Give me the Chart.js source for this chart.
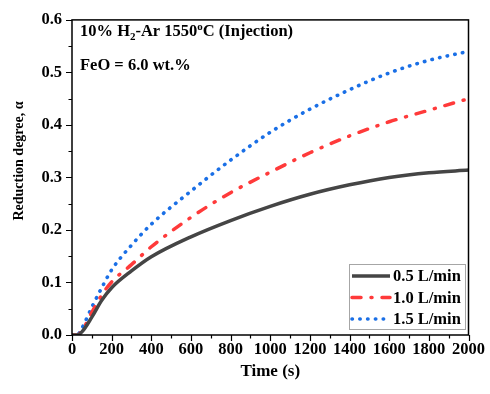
<!DOCTYPE html>
<html>
<head>
<meta charset="utf-8">
<script src="https://cdn.jsdelivr.net/npm/chart.js@4/dist/chart.umd.min.js"></script>
<style>
html,body{margin:0;padding:0;background:#fff;}
canvas{display:block;}
</style>
</head>
<body>
<canvas id="c" width="490" height="394"></canvas>
<script>
// ---- data ----
const time = [0, 25, 50, 100, 150, 200, 300, 400, 600, 800, 1000, 1200, 1400, 1600, 1800, 2000];
const flow05 = [0, 0, 0.006, 0.034, 0.066, 0.090, 0.122, 0.149, 0.187, 0.218, 0.245, 0.268, 0.286, 0.300, 0.309, 0.314];
const flow10 = [0, 0, 0.008, 0.043, 0.076, 0.101, 0.134, 0.168, 0.224, 0.271, 0.310, 0.347, 0.379, 0.406, 0.428, 0.450];
const flow15 = [0, 0, 0.013, 0.053, 0.090, 0.124, 0.171, 0.211, 0.274, 0.333, 0.386, 0.430, 0.467, 0.499, 0.523, 0.540];
const seriesLabels = ['0.5 L/min', '1.0 L/min', '1.5 L/min'];
const xTicks = [0, 200, 400, 600, 800, 1000, 1200, 1400, 1600, 1800, 2000];
const yTicks = [0.0, 0.1, 0.2, 0.3, 0.4, 0.5, 0.6];

const FONT = '"Liberation Serif", "Times New Roman", serif';
const pts = arr => time.map((t, i) => ({x: t, y: arr[i]}));

const frameAndDecor = {
  id: 'frameAndDecor',
  afterDraw(chart) {
    const ctx = chart.ctx;
    const a = chart.chartArea;
    const xs = chart.scales.x, ys = chart.scales.y;
    ctx.save();
    // frame
    ctx.strokeStyle = '#000';
    ctx.lineWidth = 1.5;
    ctx.strokeRect(a.left, a.top, a.right - a.left, a.bottom - a.top);
    // x ticks (major + minor), outward
    ctx.lineWidth = 1.2;
    ctx.beginPath();
    for (let v = xs.min; v <= xs.max + 1e-9; v += 100) {
      const px = Math.round(xs.getPixelForValue(v)) + 0.5;
      const len = (Math.round(v) % 200 === 0) ? 6 : 3.5;
      ctx.moveTo(px, a.bottom); ctx.lineTo(px, a.bottom + len);
    }
    for (let k = 0; k <= 12; k++) {
      const v = k * 0.05;
      const py = Math.round(ys.getPixelForValue(v)) + 0.5;
      const len = (k % 2 === 0) ? 6 : 3.5;
      ctx.moveTo(a.left, py); ctx.lineTo(a.left - len, py);
    }
    ctx.stroke();

    // annotation text
    ctx.fillStyle = '#000';
    ctx.textBaseline = 'alphabetic';
    ctx.textAlign = 'left';
    const big = 'bold 16.5px ' + FONT, small = 'bold 11px ' + FONT;
    const segs = [
      [big, '10% H', 0], [small, '2', 4], [big, '-Ar 1550', 0], [small, 'o', -6], [big, 'C (Injection)', 0]
    ];
    let x = 80;
    segs.forEach(([f, t, dy]) => {
      ctx.font = f;
      ctx.fillText(t, x, 36 + dy);
      x += ctx.measureText(t).width;
    });
    ctx.font = big;
    ctx.fillText('FeO = 6.0 wt.%', 80, 70);

    // axis titles
    ctx.font = 'bold 17px ' + FONT;
    ctx.textAlign = 'center';
    ctx.textBaseline = 'middle';
    ctx.fillText('Time (s)', (a.left + a.right) / 2, 372);
    ctx.save();
    ctx.translate(19, 161);
    ctx.rotate(-Math.PI / 2);
    ctx.font = 'bold 14px ' + FONT;
    ctx.fillText('Reduction degree, \u03b1', 0, 0);
    ctx.restore();

    // legend (inside plot)
    ctx.lineWidth = 1;
    ctx.strokeStyle = '#a6a6a6';
    ctx.strokeRect(349.5, 264.5, 116, 65);
    const rows = [276, 297.5, 319];
    chart.data.datasets.forEach((ds, i) => {
      const y = rows[i];
      ctx.save();
      ctx.strokeStyle = ds.borderColor;
      ctx.lineWidth = ds.borderWidth;
      ctx.lineCap = ds.borderCapStyle || 'butt';
      ctx.setLineDash(ds.borderDash || []);
      ctx.beginPath();
      ctx.moveTo(352, y); ctx.lineTo(390, y);
      ctx.stroke();
      ctx.restore();
      ctx.font = 'bold 16.5px ' + FONT;
      ctx.textAlign = 'left';
      ctx.textBaseline = 'middle';
      ctx.fillStyle = '#000';
      ctx.fillText(ds.label, 393, y + 1);
    });
    ctx.restore();
  }
};

new Chart(document.getElementById('c'), {
  type: 'line',
  data: {
    datasets: [
      { label: seriesLabels[0], data: pts(flow05), borderColor: '#454545', borderWidth: 3.5,
        borderCapStyle: 'butt', borderDash: [] },
      { label: seriesLabels[1], data: pts(flow10), borderColor: '#ff3a3a', borderWidth: 3.5,
        borderCapStyle: 'round', borderDash: [9, 10, 1, 10] },
      { label: seriesLabels[2], data: pts(flow15), borderColor: '#1a6fe6', borderWidth: 3.6,
        borderCapStyle: 'round', borderDash: [0.4, 7.4] }
    ]
  },
  options: {
    responsive: false,
    animation: false,
    elements: { point: { radius: 0 }, line: { cubicInterpolationMode: 'monotone', fill: false } },
    layout: { padding: { left: 0, top: 14, right: 18, bottom: 0 } },
    plugins: { legend: { display: false }, tooltip: { enabled: false } },
    scales: {
      x: {
        type: 'linear', min: 0, max: 2000,
        afterBuildTicks: s => { s.ticks = xTicks.map(v => ({value: v})); },
        afterFit: s => { s.height = 59; },
        grid: { display: false, drawTicks: false },
        border: { display: false },
        ticks: { color: '#000', padding: 5, maxRotation: 0, autoSkip: false,
                 callback: v => String(v),
                 font: { family: FONT, size: 16.5, weight: 'bold' } }
      },
      y: {
        type: 'linear', min: 0, max: 0.6,
        afterBuildTicks: s => { s.ticks = yTicks.map(v => ({value: v})); },
        afterFit: s => { s.width = 72; },
        grid: { display: false, drawTicks: false },
        border: { display: false },
        ticks: { color: '#000', padding: 10, autoSkip: false,
                 callback: v => Number(v).toFixed(1),
                 font: { family: FONT, size: 16.5, weight: 'bold' } }
      }
    }
  },
  plugins: [frameAndDecor]
});
</script>
</body>
</html>
